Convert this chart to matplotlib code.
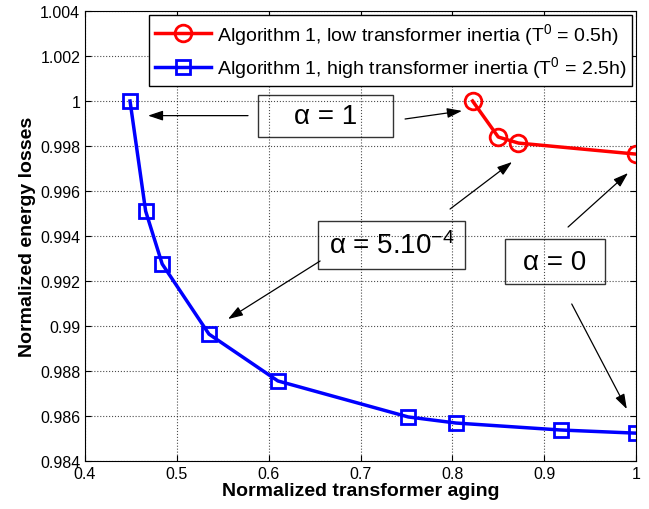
import matplotlib
matplotlib.use('Agg')
import matplotlib.pyplot as plt
from matplotlib.patches import Rectangle

# Datos
aging_high = [0.449, 0.466, 0.484, 0.535, 0.610, 0.752, 0.804, 0.918, 1.0]
losses_high = [1.0, 0.99511, 0.99276, 0.98964, 0.98756, 0.98596, 0.98569, 0.98538, 0.98524]

aging_low = [0.822, 0.850, 0.872, 1.0]
losses_low = [1.0, 0.9984, 0.99813, 0.99764]

label_low = r'Algorithm 1, low transformer inertia (T$^0$ = 0.5h)'
label_high = r'Algorithm 1, high transformer inertia (T$^0$ = 2.5h)'

xticks = [0.4, 0.5, 0.6, 0.7, 0.8, 0.9, 1.0]
xtick_labels = ['0.4', '0.5', '0.6', '0.7', '0.8', '0.9', '1']
yticks = [0.984, 0.986, 0.988, 0.99, 0.992, 0.994, 0.996, 0.998, 1.0, 1.002, 1.004]
ytick_labels = ['0.984', '0.986', '0.988', '0.99', '0.992', '0.994', '0.996', '0.998', '1', '1.002', '1.004']

plt.rcParams['font.family'] = ['Liberation Sans', 'DejaVu Sans']
plt.rcParams['mathtext.fontset'] = 'custom'
plt.rcParams['mathtext.rm'] = 'Liberation Sans'
plt.rcParams['mathtext.default'] = 'regular'

fig = plt.figure(figsize=(6.49, 5.10), dpi=100)
ax = fig.add_axes([0.131, 0.094, 0.849, 0.8825])

ax.plot(aging_low, losses_low, '-o', color='red', lw=2.5, ms=12,
        mfc='none', mew=2, label=label_low)
ax.plot(aging_high, losses_high, '-s', color='blue', lw=2.5, ms=10,
        mfc='none', mew=2, label=label_high)

ax.set_xlim(0.4, 1.0)
ax.set_ylim(0.984, 1.004)
ax.set_xticks(xticks)
ax.set_xticklabels(xtick_labels)
ax.set_yticks(yticks)
ax.set_yticklabels(ytick_labels)
ax.tick_params(direction='in', top=True, right=True, labelsize=11.5, length=4)
ax.grid(True, linestyle=':', color='black', linewidth=0.8, alpha=0.7)

ax.set_xlabel('Normalized transformer aging', fontsize=14, fontweight='bold', labelpad=1)
ax.set_ylabel('Normalized energy losses', fontsize=14, fontweight='bold', labelpad=3)

leg = ax.legend(loc='upper right', fontsize=14, fancybox=False, framealpha=1,
                edgecolor='black', handlelength=2.9, borderaxespad=0.2,
                handletextpad=0.3, borderpad=0.3, labelspacing=0.4)
leg.get_frame().set_linewidth(1.0)

# Cajas de texto (alfa)
cajas = [
    (0.5884, 0.9984, 0.1470, 0.001867, 'α = 1'),
    (0.6537, 0.992533, 0.1601, 0.002133, 'α = 5.10$^{-4}$'),
    (0.8574, 0.991867, 0.1089, 0.0020, 'α = 0'),
]
for x0, y0, w, h, txt in cajas:
    ax.add_patch(Rectangle((x0, y0), w, h, fill=False, edgecolor='#333333', lw=1.0))
    ax.text(x0 + w / 2, y0 + h / 2, txt, ha='center', va='center', fontsize=20)

# Flechas
flechas = [
    ((0.5775, 0.99935), (0.4686, 0.99935)),
    ((0.7485, 0.99920), (0.8105, 0.99956)),
    ((0.7975, 0.9952), (0.865, 0.99729)),
    ((0.656, 0.99289), (0.5557, 0.99031)),
    ((0.926, 0.9944), (0.9913, 0.9968)),
    ((0.930, 0.99098), (0.990, 0.98631)),
]
for inicio, fin in flechas:
    ax.annotate('', xy=fin, xytext=inicio,
                arrowprops=dict(arrowstyle='-|>,head_length=0.9,head_width=0.3',
                                color='black', lw=0.9, shrinkA=0, shrinkB=0))

plt.savefig('out.png', dpi=100)
